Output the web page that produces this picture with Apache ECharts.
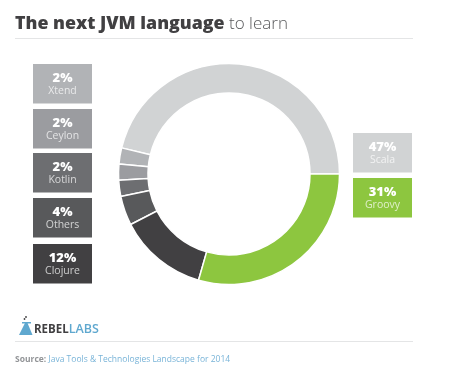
<!DOCTYPE html>
<html>
<head>
<meta charset="utf-8">
<style>html,body{margin:0;padding:0;background:#fff}#c{width:450px;height:389px}</style>
<script src="https://cdn.jsdelivr.net/npm/echarts@6/dist/echarts.min.js"></script>
</head>
<body>
<div id="c"></div>
<script>
var languages = ['Scala','Xtend','Ceylon','Kotlin','Others','Clojure','Groovy'];
var printedShares = [47,2,2,2,4,12,31];
var arcShares = [46.2,2.35,2.35,2.35,4.3,13,29.45];
var colours = ['#d1d3d4','#b1b3b6','#9b9ca0','#6d6e71','#58595b','#414042','#8dc63f'];
var FONT = '"Open Sans", sans-serif';
var boxLayout = {
  Xtend:[33,64], Ceylon:[33,109], Kotlin:[33,153], Others:[33,198], Clojure:[33,244],
  Scala:[353,133], Groovy:[353,178]
};
var graphics = [];
languages.forEach(function(name,i){
  var p = boxLayout[name];
  graphics.push({type:'rect',silent:true,shape:{x:p[0],y:p[1],width:59,height:39.5},style:{fill:colours[i]}});
  graphics.push({type:'text',silent:true,style:{x:p[0]+29.5,y:p[1]+14,text:printedShares[i]+'%',fill:'#fff',font:'800 13px '+FONT,align:'center',verticalAlign:'middle'}});
  graphics.push({type:'text',silent:true,style:{x:p[0]+29.5,y:p[1]+27.5,text:name,fill:'rgba(255,255,255,0.72)',font:'10.5px '+FONT,align:'center',verticalAlign:'middle'}});
});
graphics.push({type:'line',silent:true,shape:{x1:15,y1:38.5,x2:413,y2:38.5},style:{stroke:'#e4e5e6',lineWidth:1}});
graphics.push({type:'line',silent:true,shape:{x1:15,y1:341.5,x2:413,y2:341.5},style:{stroke:'#e4e5e6',lineWidth:1}});
graphics.push({type:'polygon',silent:true,shape:{points:[[25,323],[27.5,323],[32.5,335],[19,335]]},style:{fill:'#5fa8cf'}});
graphics.push({type:'rect',silent:true,shape:{x:22,y:322,width:9,height:1.5},style:{fill:'#5fa8cf'}});
graphics.push({type:'circle',silent:true,shape:{cx:24.5,cy:319,r:0.9},style:{fill:'#414042'}});
graphics.push({type:'circle',silent:true,shape:{cx:26,cy:317,r:0.9},style:{fill:'#414042'}});
graphics.push({type:'text',silent:true,style:{x:34,y:329.5,verticalAlign:'middle',
  rich:{a:{font:'bold 11.5px '+FONT,fill:'#414042'},b:{font:'600 12.5px '+FONT,fill:'#5fa8cf'}},
  text:'{a|REBEL}{b|LABS}'}});
var chart = echarts.init(document.getElementById('c'),null,{renderer:'canvas'});
chart.setOption({
  animation:false,
  backgroundColor:'#fff',
  title:[
    {left:10,top:10,text:'{a|The next JVM language}{b| to learn}',
     textStyle:{rich:{a:{fontFamily:'"Open Sans"',fontWeight:800,fontSize:17.8,color:'#414042'},
                      b:{fontFamily:'"Open Sans"',fontWeight:300,fontSize:17,color:'#58595b'}}}},
    {left:10,top:350,text:'{a|Source:}{b| Java Tools & Technologies Landscape for 2014}',
     textStyle:{rich:{a:{fontFamily:'"Open Sans"',fontWeight:'bold',fontSize:8.5,color:'#939598'},
                      b:{fontFamily:'"Open Sans"',fontWeight:'normal',fontSize:8.5,color:'#79b4d8'}}}}
  ],
  series:[{
    type:'pie',
    center:[229,174],
    radius:[81,110.5],
    startAngle:0,
    clockwise:false,
    silent:true,
    minShowLabelAngle:0,
    label:{show:false},
    labelLine:{show:false},
    itemStyle:{borderColor:'#fff',borderWidth:1.5},
    data:languages.map(function(n,i){return {name:n,value:arcShares[i],itemStyle:{color:colours[i]}};})
  }],
  graphic:{elements:graphics}
});
</script>
</body>
</html>
